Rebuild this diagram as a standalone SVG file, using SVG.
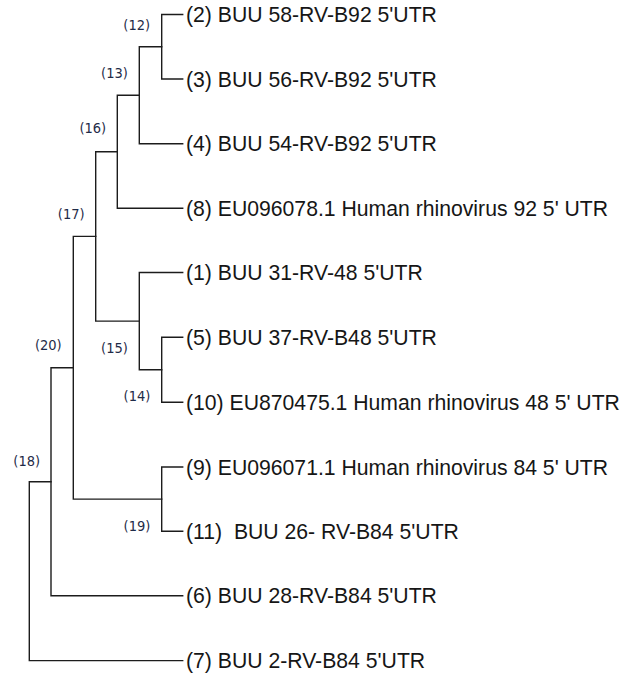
<svg xmlns="http://www.w3.org/2000/svg" width="627" height="682" viewBox="0 0 627 682">
<style>
.br{fill:none;stroke:#1c1c1c;stroke-width:1.4;stroke-linecap:square;stroke-linejoin:miter}
.leaf{font-family:"Liberation Sans",Arial,sans-serif;font-size:21.2px;fill:#161616;white-space:pre}
.inode{font-family:"DejaVu Sans Condensed","DejaVu Sans",sans-serif;font-size:14.5px;fill:#1f2b48;text-anchor:middle}
</style>
<rect width="627" height="682" fill="#ffffff"/>
<g id="connectors">
<path class="br" d="M182.7,14.5 H161.7 V79 H182.7"/>
<path class="br" d="M161.7,46.75 H139.3 V143.7 H182.7"/>
<path class="br" d="M139.3,95.2 H117.3 V208.3 H182.7"/>
<path class="br" d="M117.3,151.75 H95.7 V321.1 H139.3"/>
<path class="br" d="M182.7,272.5 H139.3 V369.75 H161.7"/>
<path class="br" d="M182.7,337.3 H161.7 V402.2 H182.7"/>
<path class="br" d="M95.7,236.4 H73.3 V499.1 H161.7"/>
<path class="br" d="M182.7,467 H161.7 V531.2 H182.7"/>
<path class="br" d="M73.3,367.75 H51 V595.8 H182.7"/>
<path class="br" d="M51,481.8 H29.3 V660.6 H182.7"/>
</g>
<g id="leaf-2"><text class="leaf" x="186" y="22.1">(2) BUU 58-RV-B92 5'UTR</text></g>
<g id="leaf-3"><text class="leaf" x="186" y="86.6">(3) BUU 56-RV-B92 5'UTR</text></g>
<g id="leaf-4"><text class="leaf" x="186" y="151.3">(4) BUU 54-RV-B92 5'UTR</text></g>
<g id="leaf-8"><text class="leaf" x="186" y="215.9">(8) EU096078.1 Human rhinovirus 92 5' UTR</text></g>
<g id="leaf-1"><text class="leaf" x="186" y="280.1">(1) BUU 31-RV-48 5'UTR</text></g>
<g id="leaf-5"><text class="leaf" x="186" y="344.9">(5) BUU 37-RV-B48 5'UTR</text></g>
<g id="leaf-10"><text class="leaf" x="186" y="409.8">(10) EU870475.1 Human rhinovirus 48 5' UTR</text></g>
<g id="leaf-9"><text class="leaf" x="186" y="474.6">(9) EU096071.1 Human rhinovirus 84 5' UTR</text></g>
<g id="leaf-11"><text class="leaf" x="186" y="538.8">(11)  BUU 26- RV-B84 5'UTR</text></g>
<g id="leaf-6"><text class="leaf" x="186" y="603.4">(6) BUU 28-RV-B84 5'UTR</text></g>
<g id="leaf-7"><text class="leaf" x="186" y="668.2">(7) BUU 2-RV-B84 5'UTR</text></g>
<g id="node-12"><text class="inode" x="136.7" y="29.6">(12)</text></g>
<g id="node-13"><text class="inode" x="114.5" y="77.9">(13)</text></g>
<g id="node-16"><text class="inode" x="92.8" y="133.2">(16)</text></g>
<g id="node-17"><text class="inode" x="71.2" y="218.9">(17)</text></g>
<g id="node-20"><text class="inode" x="48.3" y="349.9">(20)</text></g>
<g id="node-15"><text class="inode" x="114.5" y="352.9">(15)</text></g>
<g id="node-14"><text class="inode" x="137" y="401.2">(14)</text></g>
<g id="node-18"><text class="inode" x="26.7" y="465.6">(18)</text></g>
<g id="node-19"><text class="inode" x="137" y="530.6">(19)</text></g>
</svg>
